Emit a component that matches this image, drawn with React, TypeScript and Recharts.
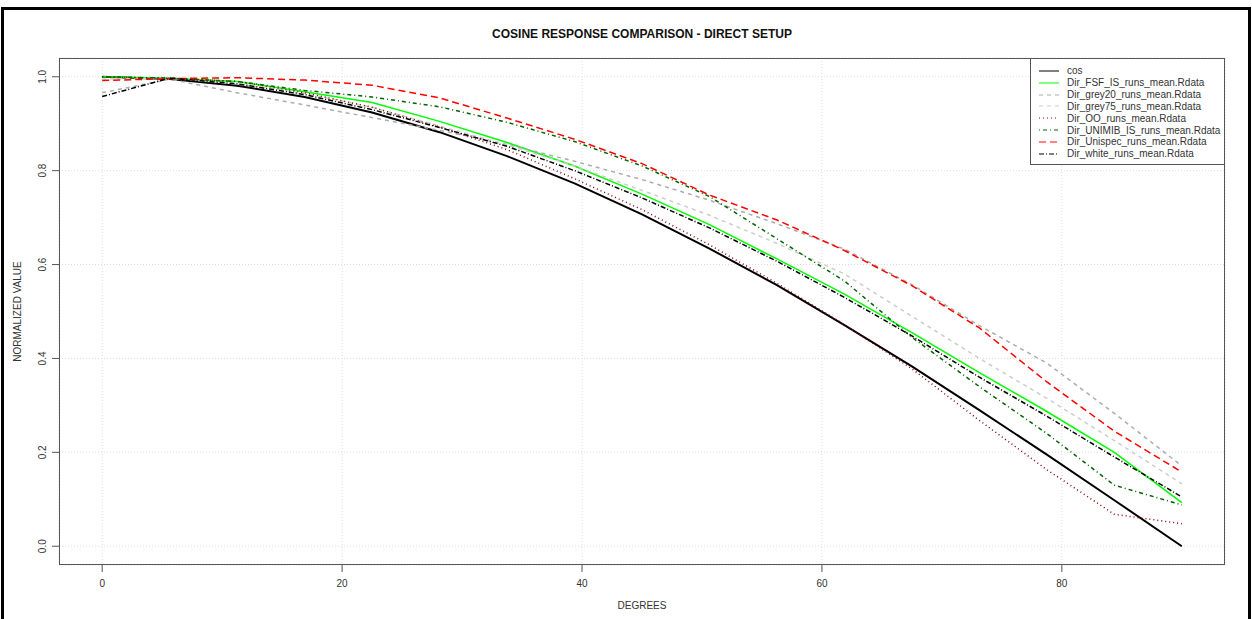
import React from "react";
import { LineChart, Line, XAxis, YAxis, CartesianGrid, Legend, Label } from "recharts";

// incidence angle in degrees
const degrees = [0, 5.625, 11.25, 16.875, 22.5, 28.125, 33.75, 39.375, 45, 50.625, 56.25, 61.875, 67.5, 73.125, 78.75, 84.375, 90];

const cosValues = [1.0, 0.995, 0.981, 0.957, 0.924, 0.882, 0.831, 0.773, 0.707, 0.634, 0.556, 0.471, 0.383, 0.29, 0.195, 0.098, 0.0];
const fsfValues = [1.0, 0.997, 0.99, 0.968, 0.945, 0.905, 0.86, 0.81, 0.75, 0.685, 0.612, 0.537, 0.455, 0.37, 0.287, 0.2, 0.093];
const grey20Values = [0.966, 0.995, 0.966, 0.94, 0.913, 0.886, 0.856, 0.82, 0.781, 0.737, 0.687, 0.633, 0.557, 0.47, 0.39, 0.283, 0.171];
const grey75Values = [0.995, 0.997, 0.985, 0.965, 0.935, 0.895, 0.855, 0.81, 0.758, 0.705, 0.645, 0.58, 0.49, 0.4, 0.315, 0.225, 0.133];
const ooValues = [1.0, 0.997, 0.99, 0.966, 0.935, 0.893, 0.845, 0.783, 0.717, 0.642, 0.56, 0.472, 0.378, 0.268, 0.163, 0.068, 0.048];
const unimibValues = [1.0, 0.997, 0.99, 0.971, 0.957, 0.936, 0.903, 0.862, 0.81, 0.745, 0.655, 0.565, 0.445, 0.34, 0.24, 0.13, 0.088];
const unispecValues = [0.992, 0.996, 0.998, 0.993, 0.982, 0.955, 0.912, 0.867, 0.815, 0.748, 0.695, 0.63, 0.555, 0.465, 0.35, 0.245, 0.158];
const whiteValues = [0.958, 0.997, 0.985, 0.962, 0.93, 0.892, 0.852, 0.8, 0.742, 0.678, 0.607, 0.53, 0.448, 0.36, 0.277, 0.19, 0.105];

const xTicks = [0, 20, 40, 60, 80];
const yTicks = [0, 0.2, 0.4, 0.6, 0.8, 1.0];

const series = [
  { key: "cos", name: "cos", values: cosValues, color: "#000000", width: 2, dash: undefined },
  { key: "fsf", name: "Dir_FSF_IS_runs_mean.Rdata", values: fsfValues, color: "#00ff00", width: 1.5, dash: undefined },
  { key: "grey20", name: "Dir_grey20_runs_mean.Rdata", values: grey20Values, color: "#acacac", width: 1.5, dash: "4 4" },
  { key: "grey75", name: "Dir_grey75_runs_mean.Rdata", values: grey75Values, color: "#cdcdcd", width: 1.5, dash: "4 4" },
  { key: "oo", name: "Dir_OO_runs_mean.Rdata", values: ooValues, color: "#8b0000", width: 1.5, dash: "1 3" },
  { key: "unimib", name: "Dir_UNIMIB_IS_runs_mean.Rdata", values: unimibValues, color: "#006400", width: 1.5, dash: "1 3 4 3" },
  { key: "unispec", name: "Dir_Unispec_runs_mean.Rdata", values: unispecValues, color: "#ff0000", width: 1.5, dash: "7 4" },
  { key: "white", name: "Dir_white_runs_mean.Rdata", values: whiteValues, color: "#000000", width: 1.5, dash: "5 2 1 2" },
];

const data = degrees.map((deg, i) => {
  const row: Record<string, number> = { deg };
  series.forEach((s) => (row[s.key] = s.values[i]));
  return row;
});

const font = "'Liberation Sans', Arial, sans-serif";

function YTick(props: any) {
  const { x, y, payload } = props;
  const bx = x - 4;
  return (
    <text x={bx} y={y} transform={`rotate(-90 ${bx} ${y})`} textAnchor="middle" fontSize={10} fill="#333" fontFamily={font}>
      {payload.value.toFixed(1)}
    </text>
  );
}

function LegendBox() {
  return (
    <div style={{ border: "1px solid #555", background: "#fff", boxSizing: "border-box", width: 195, height: 107, paddingTop: 6, fontFamily: font }}>
      {series.map((s) => (
        <div key={s.key} style={{ display: "flex", alignItems: "center", height: 11.85, fontSize: 10, color: "#333" }}>
          <svg width={36} height={8} style={{ flex: "none" }}>
            <line x1={8} y1={4} x2={28} y2={4} stroke={s.color} strokeWidth={1} strokeDasharray={s.dash} />
          </svg>
          <span style={{ whiteSpace: "nowrap" }}>{s.name}</span>
        </div>
      ))}
    </div>
  );
}

export default function App() {
  return (
    <div style={{ position: "absolute", left: 0, top: 0, width: 1252, height: 619, background: "#fff", overflow: "hidden" }}>
      <div style={{ position: "absolute", left: 1, top: 7, width: 1250, height: 640, border: "3px solid #000", boxSizing: "border-box" }} />
      <div style={{ position: "absolute", left: 0, top: 27, width: 1284, textAlign: "center", fontFamily: font, fontWeight: "bold", fontSize: 12, color: "#111" }}>
        COSINE RESPONSE COMPARISON - DIRECT SETUP
      </div>
      <LineChart width={1252} height={619} data={data} margin={{ top: 58, right: 27, bottom: 0, left: 0 }} style={{ position: "absolute", left: 0, top: 0 }}>
        <CartesianGrid stroke="#dcdcdc" strokeDasharray="1 2" />
        <XAxis
          dataKey="deg"
          type="number"
          domain={[-3.6, 93.6]}
          ticks={xTicks}
          height={54}
          axisLine={false}
          tickLine={{ stroke: "#555" }}
          tickSize={7}
          tickMargin={8}
          tick={{ fontSize: 10, fill: "#333", fontFamily: font }}
        >
          <Label value="DEGREES" position="insideBottom" offset={10} style={{ fontSize: 10, fill: "#333", fontFamily: font }} />
        </XAxis>
        <YAxis
          type="number"
          domain={[-0.04, 1.04]}
          ticks={yTicks}
          width={59}
          axisLine={false}
          tickLine={{ stroke: "#555" }}
          tickSize={7}
          tickMargin={2}
          tick={<YTick />}
        >
          <Label
            content={(p: any) => {
              const vb = p.viewBox || { x: 0, y: 58, width: 59, height: 507 };
              const lx = vb.x + 21;
              const ly = vb.y + vb.height / 2;
              return (
                <text x={lx} y={ly} transform={`rotate(-90 ${lx} ${ly})`} textAnchor="middle" fontSize={10} fill="#333" fontFamily={font}>
                  NORMALIZED VALUE
                </text>
              );
            }}
          />
        </YAxis>
        <Legend
          layout="vertical"
          align="center"
          verticalAlign="middle"
          content={() => <LegendBox />}
          wrapperStyle={{ left: 1030, top: 58, width: 195, height: 107 }}
        />
        {series.map((s) => (
          <Line
            key={s.key}
            dataKey={s.key}
            name={s.name}
            type="linear"
            stroke={s.color}
            strokeWidth={s.width}
            strokeDasharray={s.dash}
            dot={false}
            activeDot={false}
            isAnimationActive={false}
          />
        ))}
      </LineChart>
      <div style={{ position: "absolute", left: 59, top: 58, width: 1166, height: 507, border: "1px solid #555", boxSizing: "border-box", pointerEvents: "none" }} />
    </div>
  );
}
